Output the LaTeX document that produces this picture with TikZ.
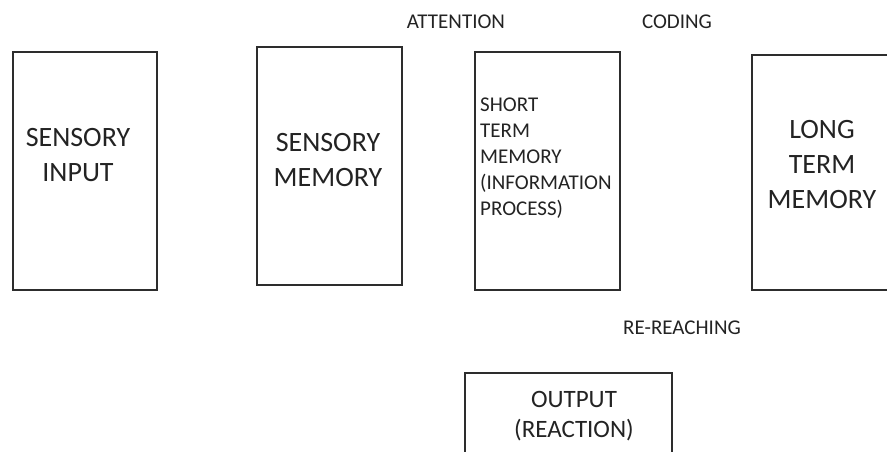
\documentclass[tikz,border=0pt]{standalone}
\usepackage{fontspec}
\setmainfont{Carlito}
\usepackage{tikz}
\usetikzlibrary{positioning}
\definecolor{boxline}{RGB}{45,45,45}
\definecolor{inkgray}{RGB}{35,35,35}
\tikzstyle{memorybox} = [rectangle, draw=boxline, line width=1.6pt, inner sep=0pt]
\tikzstyle{bigtext} = [inner sep=0pt, align=center, text=inkgray, font=\fontsize{28}{35}\selectfont]
\tikzstyle{midtext} = [inner sep=0pt, align=center, text=inkgray, font=\fontsize{25}{30}\selectfont]
\tikzstyle{smalltext} = [inner sep=0pt, align=left, text=inkgray, font=\fontsize{21}{26}\selectfont]
\tikzstyle{tag} = [inner sep=0pt, text=inkgray, font=\fontsize{21}{26}\selectfont]

\begin{document}
\begin{tikzpicture}
				[x=1pt, y=-1pt]
				\useasboundingbox (0,0) rectangle (887,451);
				\clip (0,0) rectangle (887,451);

				\node (input) [memorybox, minimum width=144pt, minimum height=238pt] at (85,171) {};
				\node (sensory) [memorybox, minimum width=145pt, minimum height=238pt] at (329.5,166) {};
				\node (short) [memorybox, minimum width=145pt, minimum height=238pt] at (547.5,171) {};
				\node (long) [memorybox, minimum width=145pt, minimum height=235pt] at (824.5,172.5) {};
				\node (output) [memorybox, minimum width=207pt, minimum height=100pt] at (568.5,423) {};

				\node (inputtxt) [bigtext] at (78,155) {SENSORY\\INPUT};
				\node (sensorytxt) [bigtext] at (328,160) {SENSORY\\MEMORY};
				\node (shorttxt) [smalltext, anchor=west] at (480,158) {SHORT\\TERM\\MEMORY\\(INFORMATION\\PROCESS)};
				\node (longtxt) [bigtext] at (822,165) {LONG\\TERM\\MEMORY};
				\node (outputtxt) [midtext] at (574,416) {OUTPUT\\(REACTION)};

				\node (attention) [tag] at (456,22) {ATTENTION};
				\node (coding) [tag] at (677,22) {CODING};
				\node (rereaching) [tag] at (682,328) {RE-REACHING};
			\end{tikzpicture}
\end{document}
